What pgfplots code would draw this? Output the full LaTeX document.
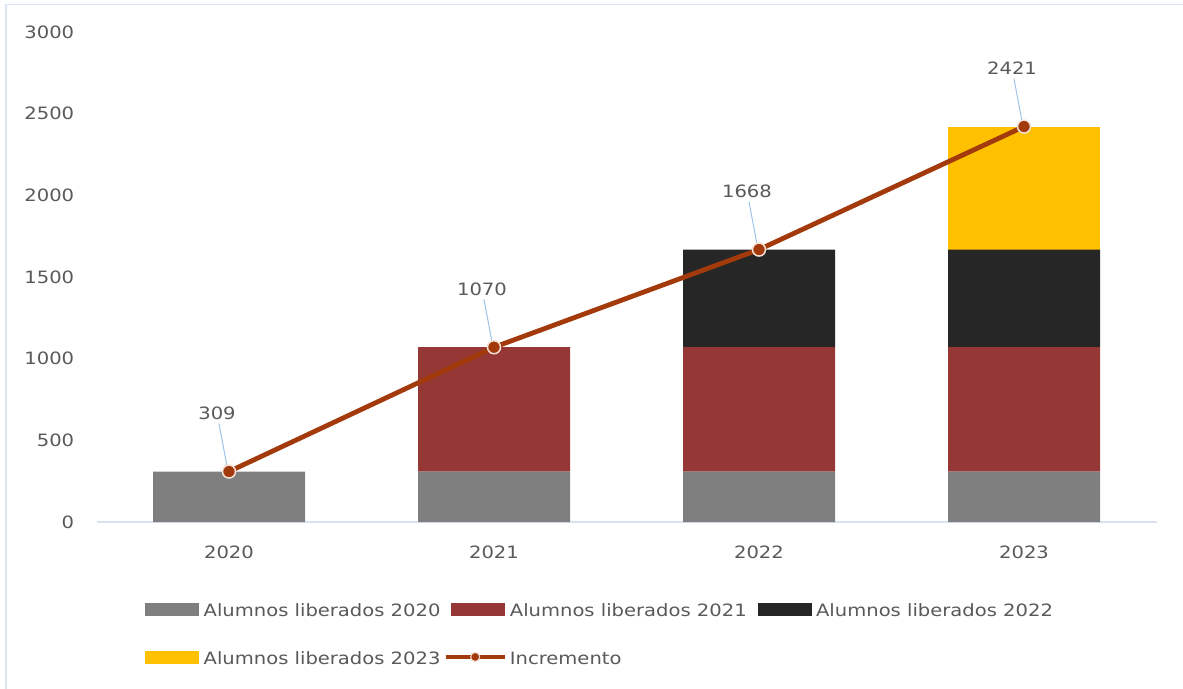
\documentclass[border=0pt]{standalone}
\usepackage{fontspec}
\setmainfont{DejaVu Sans}[FakeStretch=1.15]
\usepackage{pgfplots}
\pgfplotsset{compat=1.18}

\definecolor{c2020}{HTML}{7F7F7F}
\definecolor{c2021}{HTML}{953735}
\definecolor{c2022}{HTML}{262626}
\definecolor{c2023}{HTML}{FFC000}
\definecolor{lincol}{HTML}{A33A0C}
\definecolor{mkedge}{HTML}{F4E1D7}
\definecolor{leader}{HTML}{9DC3E6}
\definecolor{txt}{HTML}{595959}
\definecolor{axisc}{HTML}{D9E1F2}
\definecolor{framec}{HTML}{DCE6F2}

\newcommand{\lbl}{\fontsize{17}{20}\selectfont}

\pgfplotsset{
  base/.style={
    scale only axis, width=1060pt, height=490pt,
    xmin=-0.5, xmax=3.5, ymin=0, ymax=3000,
    at={(96.5pt,-522pt)}, anchor=south west,
    /pgf/number format/1000 sep={},
    /pgf/number format/assume math mode=true,
  },
}

\begin{document}
\begin{tikzpicture}
\path[use as bounding box] (0,0) rectangle (1183pt,-688pt);
\draw[framec, line width=1.5pt] (6pt,-690pt) -- (6pt,-4.5pt) -- (1185pt,-4.5pt);

% stacked bars
\begin{axis}[base,
  ybar stacked, bar width=152pt,
  axis lines=left, axis line style={-},
  x axis line style={draw=axisc, line width=1.2pt},
  y axis line style={draw=none},
  tick style={draw=none},
  xtick={0,1,2,3}, xticklabels={2020,2021,2022,2023},
  ytick={0,500,...,3000}, scaled y ticks=false,
  ticklabel style={font=\lbl, text=txt, inner sep=0pt},
  yticklabel style={anchor=east, xshift=-20pt},
  xticklabel style={anchor=north, yshift=-22pt},
]
\addplot[fill=c2020, draw=none] coordinates {(0,309) (1,309) (2,309) (3,309)};
\addplot[fill=c2021, draw=none] coordinates {(0,0) (1,761) (2,761) (3,761)};
\addplot[fill=c2022, draw=none] coordinates {(0,0) (1,0) (2,598) (3,598)};
\addplot[fill=c2023, draw=none] coordinates {(0,0) (1,0) (2,0) (3,753)};
\end{axis}

% total line, labels and legend
\begin{axis}[base, hide axis, clip=false,
  legend columns=3,
  legend cell align=left,
  legend style={
    at={(axis description cs:0.0458,-0.165)}, anchor=north west,
    draw=none, fill=none, inner sep=0pt, font=\lbl, text=txt,
    nodes={inner sep=0pt, text height=13pt, text depth=4pt},
    row sep=30pt,
    /tikz/every odd column/.append style={column sep=5pt},
    /tikz/every even column/.append style={column sep=11pt},
  },
]
\addlegendimage{legend image code/.code={\fill[c2020] (0pt,-3pt) rectangle (53pt,9pt);}}
\addlegendentry{Alumnos liberados 2020}
\addlegendimage{legend image code/.code={\fill[c2021] (0pt,-3pt) rectangle (53pt,9pt);}}
\addlegendentry{Alumnos liberados 2021}
\addlegendimage{legend image code/.code={\fill[c2022] (0pt,-3pt) rectangle (53pt,9pt);}}
\addlegendentry{Alumnos liberados 2022}
\addlegendimage{legend image code/.code={\fill[c2023] (0pt,-3pt) rectangle (53pt,9pt);}}
\addlegendentry{Alumnos liberados 2023}
\addlegendimage{legend image code/.code={
  \path[use as bounding box, draw=none, fill=none] (0pt,-3pt) rectangle (53pt,9pt);
  \draw[lincol, line width=4.5pt] (-6pt,3pt) -- (53pt,3pt);
  \fill[lincol] (23.5pt,3pt) circle (4.5pt);
  \draw[mkedge, line width=1pt] (23.5pt,3pt) circle (4.5pt);}}
\addlegendentry{Incremento}

% leader lines
\addplot[forget plot, leader, line width=1pt, quiver={u=0.03, v=-257}]
  table[x expr=\thisrow{x}-0.038, y expr=\thisrow{y}+294] {
x y
0 309
1 1070
2 1668
3 2421
};

\addplot[forget plot, lincol, line width=4.8pt, mark=*, mark size=6.5pt,
  mark options={fill=lincol, draw=mkedge, line width=1.5pt},
  nodes near coords,
  every node near coord/.append style={anchor=center, xshift=-12pt, yshift=58pt,
    font=\lbl, text=txt},
] coordinates {(0,309) (1,1070) (2,1668) (3,2421)};
\end{axis}
\end{tikzpicture}
\end{document}
